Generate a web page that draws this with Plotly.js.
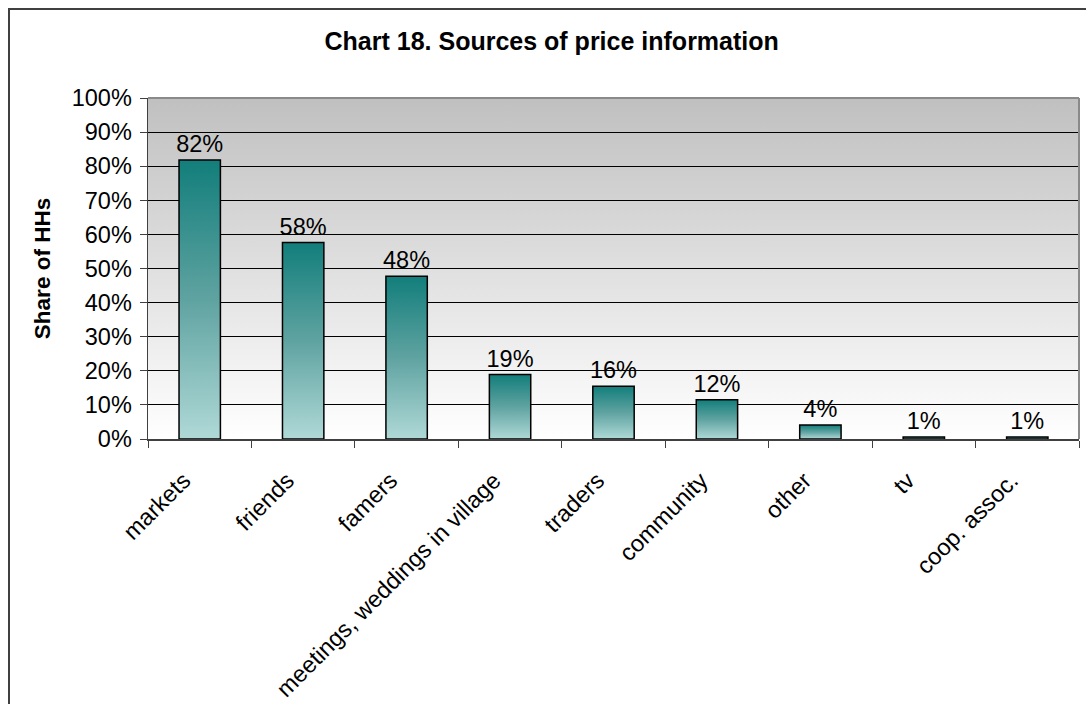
<!DOCTYPE html>
<html>
<head>
<meta charset="utf-8">
<script src="https://cdn.plot.ly/plotly-3.0.1.min.js"></script>
<style>
  html, body { margin: 0; padding: 0; background: #ffffff; }
  #chart { width: 1086px; height: 704px; position: relative; }
  #frame { position: absolute; left: 8px; top: 8px; width: 1100px; height: 720px;
           border-left: 2px solid #404040; border-top: 2px solid #404040; pointer-events: none; }
</style>
</head>
<body>
<div id="chart"></div>
<div id="frame"></div>
<script>
// ---- data ----
const categories = ["markets", "friends", "famers", "meetings, weddings in village",
                    "traders", "community", "other", "tv", "coop. assoc."];
const shares = [0.818, 0.576, 0.477, 0.189, 0.155, 0.115, 0.041, 0.006, 0.006];
const shareLabels = ["82%", "58%", "48%", "19%", "16%", "12%", "4%", "1%", "1%"];
const yTickValues = [0, 0.1, 0.2, 0.3, 0.4, 0.5, 0.6, 0.7, 0.8, 0.9, 1.0];

const FONT = "Liberation Sans, Arial, Helvetica, sans-serif";

const trace = {
  type: "bar",
  x: categories,
  y: shares,
  text: shareLabels,
  textposition: "outside",
  constraintext: "none",
  cliponaxis: false,
  textfont: { family: FONT, size: 23.5, color: "#000000" },
  marker: { color: "#5fa3a1", line: { color: "#000000", width: 1.5 } },
  hoverinfo: "x+y"
};

const layout = {
  width: 1086,
  height: 704,
  margin: { l: 148, r: 7, t: 98, b: 265 },
  paper_bgcolor: "#ffffff",
  plot_bgcolor: "#e0e0e0",
  bargap: 0.6,
  showlegend: false,
  font: { family: FONT, color: "#000000" },
  title: {
    text: "<b>Chart 18. Sources of price information</b>",
    font: { family: FONT, size: 25, color: "#000000" },
    x: 0.508, xref: "container", xanchor: "center",
    y: 1 - 41 / 704, yref: "container", yanchor: "middle"
  },
  xaxis: {
    type: "category",
    tickangle: -45,
    tickson: "boundaries",
    ticks: "outside",
    ticklen: 7,
    tickwidth: 1,
    tickcolor: "#404040",
    showline: true,
    linecolor: "#404040",
    linewidth: 1.5,
    showgrid: false,
    tickfont: { family: FONT, size: 23.5, color: "#000000" },
    ticklabelstandoff: 17,
    ticklabelshift: -16
  },
  yaxis: {
    range: [0, 1],
    tickvals: yTickValues,
    tickformat: ".0%",
    ticks: "outside",
    ticklen: 7,
    tickwidth: 1,
    tickcolor: "#404040",
    showline: true,
    linecolor: "#404040",
    linewidth: 1.5,
    showgrid: true,
    gridcolor: "#000000",
    gridwidth: 1,
    zeroline: false,
    tickfont: { family: FONT, size: 23.5, color: "#000000" },
    ticklabelstandoff: 3,
    title: {
      text: "<b>Share of HHs</b>",
      font: { family: FONT, size: 22.5, color: "#000000" },
      standoff: 15
    }
  },
  shapes: [
    { type: "line", xref: "paper", yref: "paper", x0: 0, x1: 1, y0: 1, y1: 1,
      line: { color: "#8a8a8a", width: 2 } },
    { type: "line", xref: "paper", yref: "paper", x0: 1, x1: 1, y0: 0, y1: 1,
      line: { color: "#8a8a8a", width: 2 } }
  ]
};

function applyGradients(gd) {
  const svg = gd.querySelector("svg.main-svg");
  if (!svg) return;
  const NS = "http://www.w3.org/2000/svg";
  let defs = svg.querySelector("defs");
  if (!defs) { defs = document.createElementNS(NS, "defs"); svg.insertBefore(defs, svg.firstChild); }
  function addGrad(id, stops) {
    if (defs.querySelector("#" + id)) return;
    const g = document.createElementNS(NS, "linearGradient");
    g.setAttribute("id", id);
    g.setAttribute("x1", "0"); g.setAttribute("y1", "0");
    g.setAttribute("x2", "0"); g.setAttribute("y2", "1");
    stops.forEach(function (s) {
      const st = document.createElementNS(NS, "stop");
      st.setAttribute("offset", s[0]);
      st.setAttribute("stop-color", s[1]);
      g.appendChild(st);
    });
    defs.appendChild(g);
  }
  addGrad("barGrad", [["0", "#127e7b"], ["0.5", "#5fa3a1"], ["1", "#afd9d7"]]);
  addGrad("bgGrad", [["0", "#c0c0c0"], ["1", "#ffffff"]]);
  gd.querySelectorAll(".bars .point path").forEach(function (p) {
    p.style.fill = "url(#barGrad)";
  });
  gd.querySelectorAll(".bglayer rect.bg").forEach(function (r) {
    r.style.fill = "url(#bgGrad)";
  });
}

const gd = document.getElementById("chart");
Plotly.newPlot(gd, [trace], layout, { displayModeBar: false, staticPlot: true }).then(function () {
  applyGradients(gd);
  gd.on("plotly_afterplot", function () { applyGradients(gd); });
});
</script>
</body>
</html>
